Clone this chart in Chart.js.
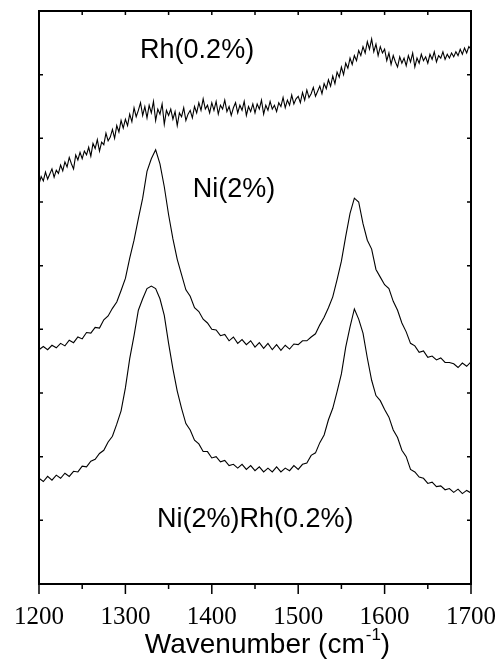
<!DOCTYPE html>
<html>
<head>
<meta charset="utf-8">
<title>Raman spectra</title>
<script src="https://cdn.jsdelivr.net/npm/chart.js@4.4.1/dist/chart.umd.min.js"></script>
<style>
  html, body { margin: 0; padding: 0; background: #ffffff; }
  #wrap { position: relative; width: 495px; height: 660px; }
</style>
</head>
<body>
<div id="wrap"><canvas id="spectraChart" width="495" height="660"></canvas></div>
<script>
// wavenumber grid for the two Ni traces (5 cm-1)
const wavenumbers = [
  1200, 1205, 1210, 1215, 1220, 1225, 1230, 1235, 1240, 1245,
  1250, 1255, 1260, 1265, 1270, 1275, 1280, 1285, 1290, 1295,
  1300, 1305, 1310, 1315, 1320, 1325, 1330, 1335, 1340, 1345,
  1350, 1355, 1360, 1365, 1370, 1375, 1380, 1385, 1390, 1395,
  1400, 1405, 1410, 1415, 1420, 1425, 1430, 1435, 1440, 1445,
  1450, 1455, 1460, 1465, 1470, 1475, 1480, 1485, 1490, 1495,
  1500, 1505, 1510, 1515, 1520, 1525, 1530, 1535, 1540, 1545,
  1550, 1555, 1560, 1565, 1570, 1575, 1580, 1585, 1590, 1595,
  1600, 1605, 1610, 1615, 1620, 1625, 1630, 1635, 1640, 1645,
  1650, 1655, 1660, 1665, 1670, 1675, 1680, 1685, 1690, 1695,
  1700
];

// finer grid for the noisy Rh trace (2.5 cm-1)
const rhWavenumbers = [
  1200, 1202.5, 1205, 1207.5, 1210, 1212.5, 1215, 1217.5, 1220, 1222.5,
  1225, 1227.5, 1230, 1232.5, 1235, 1237.5, 1240, 1242.5, 1245, 1247.5,
  1250, 1252.5, 1255, 1257.5, 1260, 1262.5, 1265, 1267.5, 1270, 1272.5,
  1275, 1277.5, 1280, 1282.5, 1285, 1287.5, 1290, 1292.5, 1295, 1297.5,
  1300, 1302.5, 1305, 1307.5, 1310, 1312.5, 1315, 1317.5, 1320, 1322.5,
  1325, 1327.5, 1330, 1332.5, 1335, 1337.5, 1340, 1342.5, 1345, 1347.5,
  1350, 1352.5, 1355, 1357.5, 1360, 1362.5, 1365, 1367.5, 1370, 1372.5,
  1375, 1377.5, 1380, 1382.5, 1385, 1387.5, 1390, 1392.5, 1395, 1397.5,
  1400, 1402.5, 1405, 1407.5, 1410, 1412.5, 1415, 1417.5, 1420, 1422.5,
  1425, 1427.5, 1430, 1432.5, 1435, 1437.5, 1440, 1442.5, 1445, 1447.5,
  1450, 1452.5, 1455, 1457.5, 1460, 1462.5, 1465, 1467.5, 1470, 1472.5,
  1475, 1477.5, 1480, 1482.5, 1485, 1487.5, 1490, 1492.5, 1495, 1497.5,
  1500, 1502.5, 1505, 1507.5, 1510, 1512.5, 1515, 1517.5, 1520, 1522.5,
  1525, 1527.5, 1530, 1532.5, 1535, 1537.5, 1540, 1542.5, 1545, 1547.5,
  1550, 1552.5, 1555, 1557.5, 1560, 1562.5, 1565, 1567.5, 1570, 1572.5,
  1575, 1577.5, 1580, 1582.5, 1585, 1587.5, 1590, 1592.5, 1595, 1597.5,
  1600, 1602.5, 1605, 1607.5, 1610, 1612.5, 1615, 1617.5, 1620, 1622.5,
  1625, 1627.5, 1630, 1632.5, 1635, 1637.5, 1640, 1642.5, 1645, 1647.5,
  1650, 1652.5, 1655, 1657.5, 1660, 1662.5, 1665, 1667.5, 1670, 1672.5,
  1675, 1677.5, 1680, 1682.5, 1685, 1687.5, 1690, 1692.5, 1695, 1697.5,
  1700
];

// Rh(0.2%) - top trace, noisy and rising
const rhSeries = [
  6.28, 6.40, 6.33, 6.47, 6.36, 6.44, 6.52, 6.39, 6.50, 6.45,
  6.58, 6.49, 6.63, 6.55, 6.70, 6.60, 6.52, 6.74, 6.66, 6.78,
  6.68, 6.80, 6.74, 6.86, 6.72, 6.92, 6.84, 6.98, 6.80, 6.94,
  6.90, 7.08, 6.96, 7.02, 7.14, 7.00, 7.20, 7.10, 7.28, 7.16,
  7.30, 7.20, 7.38, 7.26, 7.48, 7.34, 7.44, 7.56, 7.36, 7.50,
  7.32, 7.52, 7.40, 7.58, 7.28, 7.46, 7.38, 7.54, 7.22, 7.44,
  7.36, 7.46, 7.30, 7.42, 7.20, 7.40, 7.34, 7.48, 7.28, 7.38,
  7.44, 7.32, 7.50, 7.40, 7.56, 7.44, 7.62, 7.46, 7.52, 7.40,
  7.56, 7.44, 7.58, 7.38, 7.52, 7.46, 7.60, 7.42, 7.50, 7.36,
  7.48, 7.56, 7.40, 7.52, 7.44, 7.58, 7.36, 7.50, 7.42, 7.54,
  7.40, 7.54, 7.46, 7.60, 7.38, 7.52, 7.44, 7.58, 7.46, 7.52,
  7.42, 7.56, 7.50, 7.64, 7.48, 7.60, 7.52, 7.68, 7.54, 7.62,
  7.66, 7.56, 7.72, 7.60, 7.76, 7.64, 7.70, 7.80, 7.66, 7.74,
  7.82, 7.70, 7.86, 7.78, 7.92, 7.82, 7.98, 7.86, 8.04, 7.96,
  8.12, 8.00, 8.18, 8.10, 8.26, 8.16, 8.30, 8.22, 8.38, 8.30,
  8.44, 8.34, 8.52, 8.40, 8.56, 8.36, 8.48, 8.30, 8.44, 8.34,
  8.40, 8.22, 8.34, 8.16, 8.30, 8.20, 8.12, 8.28, 8.18, 8.26,
  8.14, 8.30, 8.20, 8.34, 8.12, 8.26, 8.18, 8.32, 8.22, 8.28,
  8.18, 8.32, 8.24, 8.36, 8.20, 8.30, 8.26, 8.36, 8.24, 8.32,
  8.26, 8.34, 8.28, 8.36, 8.30, 8.40, 8.32, 8.42, 8.34, 8.44,
  8.40
];

// Ni(2%) - middle trace, D and G bands
const niSeries = [
  3.68, 3.73, 3.68, 3.75, 3.71, 3.78, 3.74, 3.83, 3.79, 3.88,
  3.85, 3.95, 3.94, 4.03, 4.02, 4.15, 4.21, 4.33, 4.43, 4.61,
  4.80, 5.12, 5.40, 5.74, 6.06, 6.48, 6.68, 6.82, 6.60, 6.24,
  5.80, 5.42, 5.10, 4.86, 4.62, 4.52, 4.34, 4.28, 4.16, 4.10,
  4.00, 3.99, 3.90, 3.92, 3.82, 3.88, 3.78, 3.84, 3.76, 3.82,
  3.72, 3.79, 3.70, 3.78, 3.68, 3.76, 3.67, 3.75, 3.69, 3.77,
  3.76, 3.82, 3.82, 3.88, 3.93, 4.07, 4.19, 4.34, 4.51, 4.78,
  5.07, 5.46, 5.82, 6.06, 6.00, 5.66, 5.40, 5.26, 4.94, 4.82,
  4.70, 4.64, 4.44, 4.30, 4.10, 3.96, 3.78, 3.74, 3.64, 3.66,
  3.56, 3.58, 3.52, 3.55, 3.48, 3.48, 3.46, 3.40, 3.47, 3.42,
  3.49
];

// Ni(2%)Rh(0.2%) - bottom trace
const niRhSeries = [
  1.66, 1.61, 1.69, 1.63, 1.71, 1.66, 1.74, 1.69, 1.77, 1.76,
  1.85, 1.84, 1.93, 1.96, 2.05, 2.10, 2.23, 2.32, 2.51, 2.72,
  3.08, 3.54, 3.90, 4.30, 4.48, 4.64, 4.68, 4.64, 4.48, 4.22,
  3.78, 3.38, 3.03, 2.76, 2.52, 2.42, 2.26, 2.20, 2.08, 2.08,
  1.98, 2.00, 1.92, 1.94, 1.86, 1.88, 1.82, 1.88, 1.80, 1.86,
  1.78, 1.84, 1.76, 1.82, 1.76, 1.84, 1.76, 1.82, 1.78, 1.86,
  1.80, 1.88, 1.90, 2.02, 2.06, 2.22, 2.34, 2.58, 2.76, 3.02,
  3.30, 3.72, 4.04, 4.32, 4.16, 3.94, 3.55, 3.20, 2.96, 2.88,
  2.74, 2.62, 2.42, 2.30, 2.10, 2.00, 1.80, 1.76, 1.68, 1.66,
  1.58, 1.60, 1.53, 1.54, 1.48, 1.50, 1.44, 1.49, 1.42, 1.47,
  1.43
];

const xMajorTicks = [1200, 1300, 1400, 1500, 1600, 1700];
const xMinorTicks = [1250, 1350, 1450, 1550, 1650];
const yTicks = [0, 1, 2, 3, 4, 5, 6, 7, 8, 9];

// trace labels, anchored in data coordinates (left edge, baseline)
const traceLabels = ["Rh(0.2%)", "Ni(2%)", "Ni(2%)Rh(0.2%)"];
const traceLabelX = [1317, 1378, 1336.5];
const traceLabelY = [8.26, 6.08, 0.9];

const axisTitle = "Wavenumber (cm";
const axisTitleSup = "-1";

(function () {
  const canvas = document.getElementById("spectraChart");
  const ctx = canvas.getContext("2d");

  function toPoints(xValues, values) {
    return values.map(function (v, i) {
      return { x: xValues[i], y: v };
    });
  }

  function traceDataset(xValues, values) {
    return {
      data: toPoints(xValues, values),
      borderColor: "#000000",
      borderWidth: 1.1,
      pointRadius: 0,
      tension: 0,
      fill: false,
    };
  }

  const frameAndTicks = {
    id: "frameAndTicks",
    afterDraw: function (chart) {
      const c = chart.ctx;
      const area = chart.chartArea;
      const xs = chart.scales.x;
      const ys = chart.scales.y;

      c.save();
      c.strokeStyle = "#000000";
      c.lineWidth = 2;
      c.strokeRect(area.left, area.top, area.right - area.left, area.bottom - area.top);

      c.lineWidth = 1.5;
      c.beginPath();
      xMajorTicks.forEach(function (v) {
        const px = xs.getPixelForValue(v);
        c.moveTo(px, area.bottom);
        c.lineTo(px, area.bottom + 10);
        c.moveTo(px, area.top);
        c.lineTo(px, area.top + 4);
      });
      xMinorTicks.forEach(function (v) {
        const px = xs.getPixelForValue(v);
        c.moveTo(px, area.bottom);
        c.lineTo(px, area.bottom + 5);
        c.moveTo(px, area.top);
        c.lineTo(px, area.top + 4);
      });
      yTicks.forEach(function (v) {
        const py = ys.getPixelForValue(v);
        c.moveTo(area.left, py);
        c.lineTo(area.left + 4, py);
        c.moveTo(area.right, py);
        c.lineTo(area.right - 4, py);
      });
      c.stroke();

      // trace labels
      c.fillStyle = "#000000";
      c.font = "27px 'Liberation Sans', Arial, sans-serif";
      c.textAlign = "left";
      c.textBaseline = "alphabetic";
      traceLabels.forEach(function (text, i) {
        c.fillText(text, xs.getPixelForValue(traceLabelX[i]), ys.getPixelForValue(traceLabelY[i]));
      });

      // axis title with superscript
      const mainFont = "28px 'Liberation Sans', Arial, sans-serif";
      const supFont = "17px 'Liberation Sans', Arial, sans-serif";
      c.font = mainFont;
      const w1 = c.measureText(axisTitle).width;
      const w3 = c.measureText(")").width;
      c.font = supFont;
      const w2 = c.measureText(axisTitleSup).width;
      const total = w1 + w2 + w3;
      const cx = (area.left + area.right) / 2 + 12;
      const baseY = 653;
      const x0 = cx - total / 2;
      c.font = mainFont;
      c.fillText(axisTitle, x0, baseY);
      c.font = supFont;
      c.fillText(axisTitleSup, x0 + w1 + 1, baseY - 13);
      c.font = mainFont;
      c.fillText(")", x0 + w1 + w2 + 1, baseY);
      c.restore();
    },
  };

  new Chart(ctx, {
    type: "line",
    data: {
      datasets: [
        traceDataset(rhWavenumbers, rhSeries),
        traceDataset(wavenumbers, niSeries),
        traceDataset(wavenumbers, niRhSeries),
      ],
    },
    options: {
      responsive: false,
      animation: false,
      events: [],
      layout: {
        padding: { top: 11, right: 24, left: 0, bottom: 0 },
      },
      plugins: {
        legend: { display: false },
        tooltip: { enabled: false },
        title: { display: false },
      },
      scales: {
        x: {
          type: "linear",
          min: 1200,
          max: 1700,
          grid: { display: false, drawTicks: false },
          border: { display: false },
          afterFit: function (scale) {
            scale.height = 76;
            scale.paddingLeft = 0;
            scale.paddingRight = 0;
          },
          afterBuildTicks: function (scale) {
            scale.ticks = xMajorTicks.map(function (v) {
              return { value: v };
            });
          },
          ticks: {
            color: "#000000",
            padding: 18,
            maxRotation: 0,
            autoSkip: false,
            callback: function (value) {
              return String(value);
            },
            font: { family: "'Liberation Serif', 'Times New Roman', serif", size: 25 },
          },
        },
        y: {
          type: "linear",
          min: 0,
          max: 9,
          grid: { display: false, drawTicks: false },
          border: { display: false },
          ticks: { display: false, stepSize: 1 },
          afterFit: function (scale) {
            scale.width = 39;
            scale.paddingTop = 0;
            scale.paddingBottom = 0;
          },
        },
      },
    },
    plugins: [frameAndTicks],
  });
})();
</script>
</body>
</html>
